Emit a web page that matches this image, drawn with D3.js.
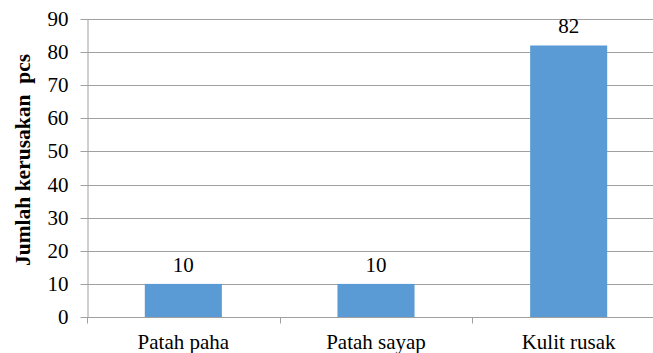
<!DOCTYPE html>
<html>
<head>
<meta charset="utf-8">
<script src="https://cdn.jsdelivr.net/npm/d3@7"></script>
<style>
  html, body { margin: 0; padding: 0; background: #fff; }
  svg { display: block; }
</style>
</head>
<body>
<script>
// Damage counts per category
const categories = ["Patah paha", "Patah sayap", "Kulit rusak"];
const values = [10, 10, 82];
const yTicks = [0, 10, 20, 30, 40, 50, 60, 70, 80, 90];
const yTitle = "Jumlah kerusakan\u00a0 pcs";

const FONT = "'Liberation Serif', Tinos, 'Times New Roman', serif";
const LABEL_SIZE = 21;

const W = 653, H = 353;
const plot = { left: 87, right: 665, top: 19, bottom: 317 };

const svg = d3.select("body").append("svg")
  .attr("width", W).attr("height", H)
  .attr("font-family", FONT);

const x = d3.scaleBand()
  .domain(categories)
  .range([plot.left, plot.right]);

const y = d3.scaleLinear()
  .domain([0, 90])
  .range([plot.bottom, plot.top]);

const gridColor = "#a0a0a0";

// horizontal gridlines
svg.append("g")
  .selectAll("line")
  .data(yTicks.filter(d => d > 0))
  .join("line")
  .attr("x1", plot.left).attr("x2", plot.right)
  .attr("y1", d => Math.round(y(d)) + 0.5).attr("y2", d => Math.round(y(d)) + 0.5)
  .attr("stroke", gridColor).attr("stroke-width", 1);

// y axis
const yAxis = svg.append("g")
  .attr("transform", `translate(${plot.left + 0.5},0)`)
  .call(d3.axisLeft(y).tickValues(yTicks).tickSize(7).tickPadding(12).tickSizeOuter(0))
  .attr("font-family", FONT)
  .attr("font-size", LABEL_SIZE);
yAxis.select(".domain").attr("stroke", gridColor);
yAxis.selectAll(".tick line").attr("stroke", gridColor);
yAxis.selectAll(".tick text").attr("fill", "#000").attr("font-family", FONT);
yAxis.selectAll(".tick").attr("transform", d => `translate(0,${Math.round(y(d)) + 0.5})`);

// x axis (ticks sit on band boundaries)
const xAxisG = svg.append("g")
  .attr("transform", `translate(0,${plot.bottom + 0.5})`);
xAxisG.append("line")
  .attr("x1", plot.left).attr("x2", plot.right)
  .attr("stroke", gridColor);
const boundaries = categories.map(c => x(c)).concat([x(categories[categories.length - 1]) + x.bandwidth()]);
xAxisG.selectAll("line.tk")
  .data(boundaries)
  .join("line")
  .attr("class", "tk")
  .attr("x1", d => Math.round(d) + 0.5).attr("x2", d => Math.round(d) + 0.5)
  .attr("y1", 0).attr("y2", 6)
  .attr("stroke", gridColor);
xAxisG.selectAll("text")
  .data(categories)
  .join("text")
  .attr("x", d => x(d) + x.bandwidth() / 2)
  .attr("y", 31)
  .attr("text-anchor", "middle")
  .attr("font-family", FONT)
  .attr("font-size", LABEL_SIZE)
  .text(d => d);

// bars
const barW = x.bandwidth() * 0.4;
svg.append("g")
  .selectAll("rect")
  .data(values)
  .join("rect")
  .attr("x", (d, i) => x(categories[i]) + (x.bandwidth() - barW) / 2)
  .attr("y", d => y(d))
  .attr("width", barW)
  .attr("height", d => plot.bottom - y(d))
  .attr("fill", "#5b9bd5");

// value labels
svg.append("g")
  .selectAll("text")
  .data(values)
  .join("text")
  .attr("x", (d, i) => x(categories[i]) + x.bandwidth() / 2)
  .attr("y", d => y(d) - 12)
  .attr("text-anchor", "middle")
  .attr("font-family", FONT)
  .attr("font-size", LABEL_SIZE)
  .text(d => d);

// y axis title
svg.append("text")
  .attr("transform", `translate(30,160) rotate(-90)`)
  .attr("text-anchor", "middle")
  .attr("font-family", FONT)
  .attr("font-size", 21.5)
  .attr("font-weight", "bold")
  .text(yTitle);
</script>
</body>
</html>
